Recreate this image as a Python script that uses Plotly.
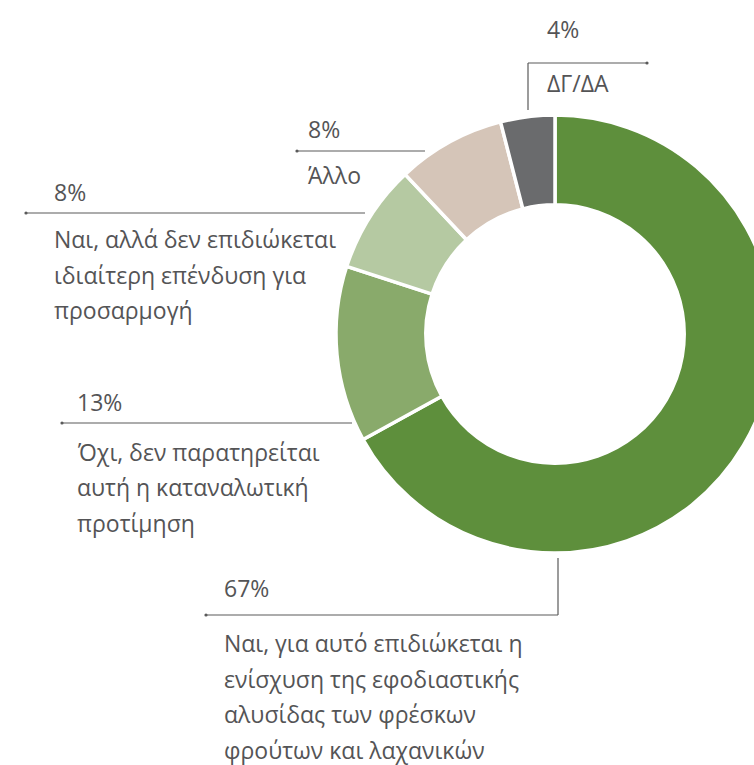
import plotly.graph_objects as go

# Survey answers, clockwise from 12 o'clock
categories = [
    "Ναι, για αυτό επιδιώκεται η ενίσχυση της εφοδιαστικής αλυσίδας των φρέσκων φρούτων και λαχανικών",
    "Όχι, δεν παρατηρείται αυτή η καταναλωτική προτίμηση",
    "Ναι, αλλά δεν επιδιώκεται ιδιαίτερη επένδυση για προσαρμογή",
    "Άλλο",
    "ΔΓ/ΔΑ",
]
values = [67, 13, 8, 8, 4]
label_lines = [
    ["Ναι, για αυτό επιδιώκεται η", "ενίσχυση της εφοδιαστικής",
     "αλυσίδας των φρέσκων", "φρούτων και λαχανικών"],
    ["Όχι, δεν παρατηρείται", "αυτή η καταναλωτική", "προτίμηση"],
    ["Ναι, αλλά δεν επιδιώκεται", "ιδιαίτερη επένδυση για", "προσαρμογή"],
    ["Άλλο"],
    ["ΔΓ/ΔΑ"],
]
colors = ["#5e8f3c", "#89aa6b", "#b5c9a2", "#d5c5b8", "#6a6b6d"]

W, H = 780, 765
TEXT = "#545456"
LINE = "#5a5a5a"
FONT = dict(family="Open Sans", size=23, color=TEXT, weight=400)


def px(x):
    return x / W


def py(y):
    return 1 - y / H


# Callout layout in pixels: text left, percent centre y, leader (x0, x1, y),
# first label line centre y, optional vertical stub (x, y0, y1), dot position
callouts = [
    dict(tx=222, pct_y=588, lx=(206, 558), ly=615, lab_y=643, vert=(558, 558, 615), dot=206),
    dict(tx=75, pct_y=402, lx=(62, 352), ly=423, lab_y=452, vert=None, dot=62),
    dict(tx=52, pct_y=192, lx=(26, 365), ly=213, lab_y=239, vert=None, dot=26),
    dict(tx=306, pct_y=129, lx=(297, 425), ly=151, lab_y=175, vert=None, dot=297),
    dict(tx=545, pct_y=29, lx=(528, 647), ly=63, lab_y=83, vert=(528, 63, 110), dot=647),
]
LINE_STEP = 35.5

fig = go.Figure(
    go.Pie(
        labels=categories,
        values=values,
        sort=False,
        direction="clockwise",
        rotation=0,
        hole=0.59,
        marker=dict(colors=colors, line=dict(color="white", width=3.5)),
        textinfo="none",
        hoverinfo="label+percent",
        domain=dict(x=[px(336), px(774)], y=[py(553), py(115)]),
    )
)

annotations = []
shapes = []
for v, lines, c in zip(values, label_lines, callouts):
    annotations.append(dict(
        x=px(c["tx"]), y=py(c["pct_y"]), xref="paper", yref="paper",
        text=f"{v}%", showarrow=False, xanchor="left", yanchor="middle", font=FONT,
    ))
    for i, line in enumerate(lines):
        annotations.append(dict(
            x=px(c["tx"]), y=py(c["lab_y"] + i * LINE_STEP), xref="paper", yref="paper",
            text=line, showarrow=False, xanchor="left", yanchor="middle", font=FONT,
        ))
    x0, x1 = c["lx"]
    shapes.append(dict(type="line", xref="paper", yref="paper",
                       x0=px(x0), x1=px(x1), y0=py(c["ly"]), y1=py(c["ly"]),
                       line=dict(color=LINE, width=1.2)))
    if c["vert"]:
        vx, vy0, vy1 = c["vert"]
        shapes.append(dict(type="line", xref="paper", yref="paper",
                           x0=px(vx), x1=px(vx), y0=py(vy0), y1=py(vy1),
                           line=dict(color=LINE, width=1.2)))
    d = c["dot"]
    shapes.append(dict(type="circle", xref="paper", yref="paper",
                       x0=px(d - 1.6), x1=px(d + 1.6),
                       y0=py(c["ly"] + 1.6), y1=py(c["ly"] - 1.6),
                       fillcolor=LINE, line=dict(width=0)))

fig.update_layout(
    width=W, height=H,
    margin=dict(l=0, r=0, t=0, b=0),
    paper_bgcolor="white",
    showlegend=False,
    annotations=annotations,
    shapes=shapes,
)

fig.write_html("out.html")
